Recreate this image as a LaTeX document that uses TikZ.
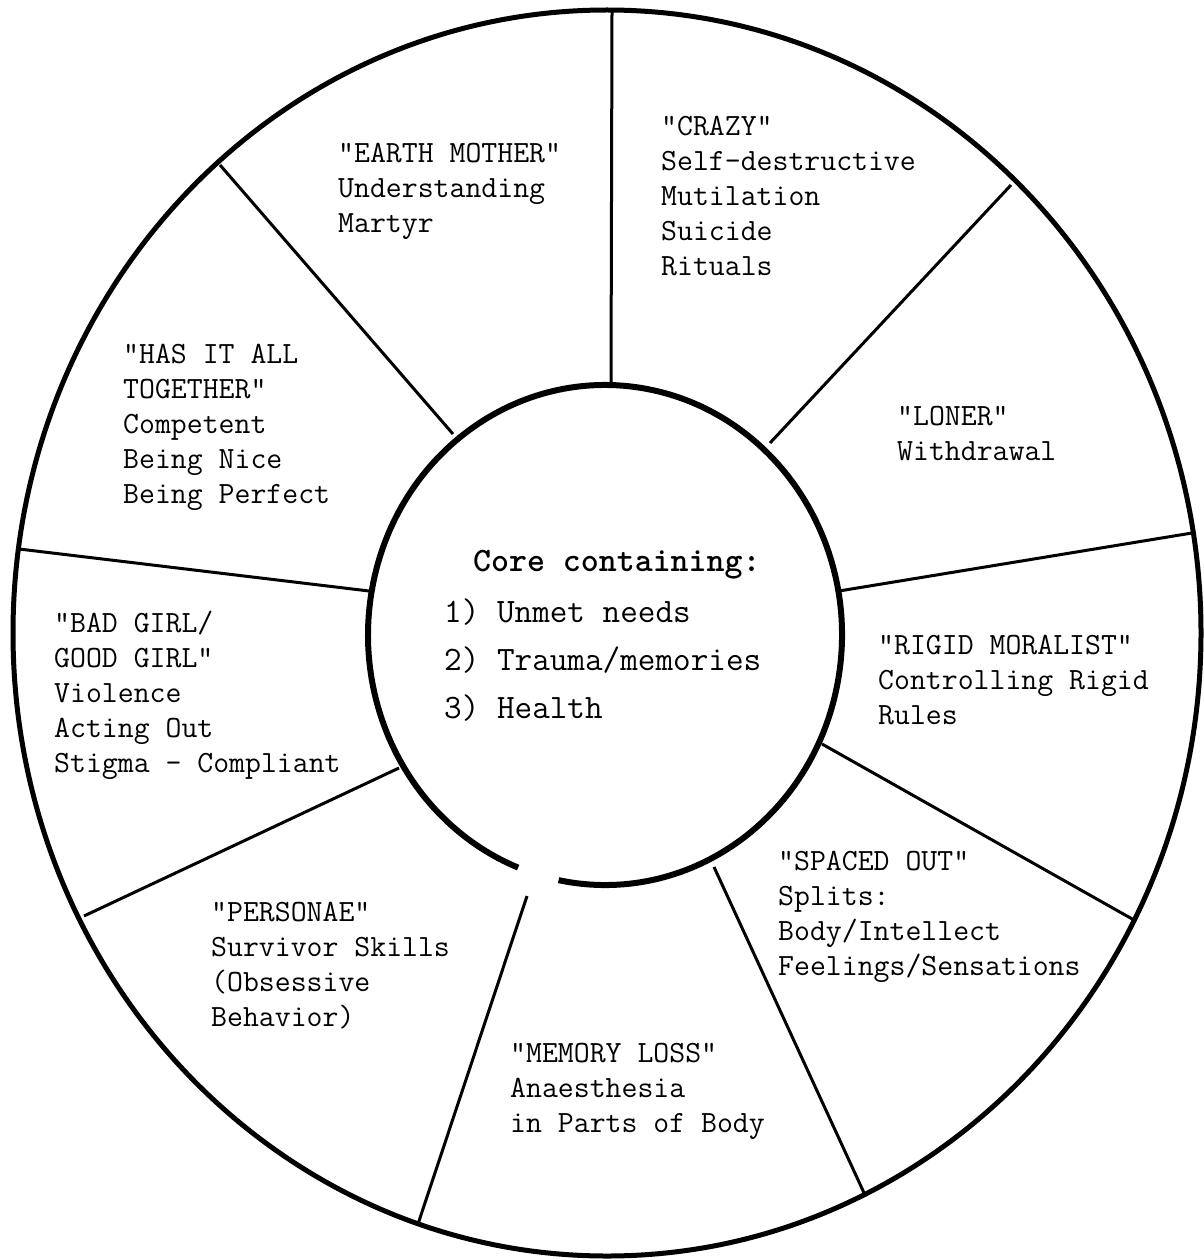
\documentclass[tikz,border=0pt]{standalone}
\usepackage{fontspec}
\begin{document}
\begin{tikzpicture}[x=1pt,y=1pt,
  rim/.style={line width=5pt},
  corering/.style={line width=6pt},
  spoke/.style={line width=3pt},
  lbl/.style={anchor=north west, align=left, inner sep=0pt, font=\ttfamily\fontsize{30.9}{35}\selectfont},
  corelbl/.style={anchor=north west, align=left, inner sep=0pt, font=\ttfamily\fontsize{34.2}{48}\selectfont},
  coretitlelbl/.style={anchor=north west, align=left, inner sep=0pt, font=\ttfamily\bfseries\fontsize{34.2}{48}\selectfont}]
\useasboundingbox (0,0) rectangle (1203,-1260);
\fill[white] (0,0) rectangle (1203,-1260);
% outer rim and core ring
\draw[rim] (607,-633) ellipse [x radius=594pt, y radius=623pt];
\draw[corering] ([shift={(258.7:237pt and 250pt)}]605,-635) arc[start angle=258.7, end angle=608.5, x radius=237pt, y radius=250pt];
% spoke end points
\coordinate (o1) at (612,-12);   \coordinate (i1) at (611,-385);
\coordinate (o2) at (1011,-185); \coordinate (i2) at (770,-443);
\coordinate (o3) at (1192,-533); \coordinate (i3) at (839,-591);
\coordinate (o4) at (1134,-920); \coordinate (i4) at (822,-744);
\coordinate (o5) at (865,-1195); \coordinate (i5) at (714,-867);
\coordinate (o6) at (418,-1224); \coordinate (i6) at (527,-896);
\coordinate (o7) at (84,-916);   \coordinate (i7) at (399,-768);
\coordinate (o8) at (19,-549);   \coordinate (i8) at (369,-591);
\coordinate (o9) at (220,-165);  \coordinate (i9) at (453,-434);
\foreach \k in {1,...,9} {\draw[spoke] (i\k) -- (o\k);}
% labels
\node[lbl] (earth) at (338,-143) {"EARTH MOTHER"\\Understanding\\Martyr};
\node[lbl] (crazy) at (661,-116) {"CRAZY"\\Self-destructive\\Mutilation\\Suicide\\Rituals};
\node[lbl] (loner) at (897,-406) {"LONER"\\Withdrawal};
\node[lbl] (rigid) at (878,-635) {"RIGID MORALIST"\\Controlling Rigid\\Rules};
\node[lbl] (spaced) at (778,-851) {"SPACED OUT"\\Splits:\\Body/Intellect\\Feelings/Sensations};
\node[lbl] (memory) at (510,-1043) {"MEMORY LOSS"\\Anaesthesia\\in Parts of Body};
\node[lbl] (personae) at (211,-902) {"PERSONAE"\\Survivor Skills\\(Obsessive\\Behavior)};
\node[lbl] (badgirl) at (54,-611) {"BAD GIRL/\\GOOD GIRL"\\Violence\\Acting Out\\Stigma - Compliant};
\node[lbl] (hasit) at (123,-344) {"HAS IT ALL\\TOGETHER"\\Competent\\Being Nice\\Being Perfect};
% core
\node[coretitlelbl] (coretitle) at (473,-550) {Core containing:};
\node[corelbl] (corelist) at (444,-599) {1) Unmet needs\\2) Trauma/memories\\3) Health};
\end{tikzpicture}
\end{document}
